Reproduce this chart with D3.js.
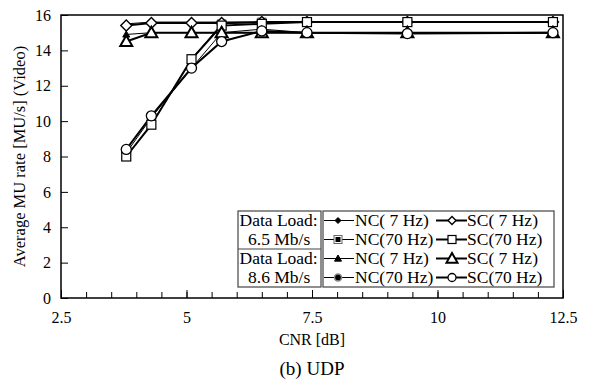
<!DOCTYPE html>
<html>
<head>
<meta charset="utf-8">
<script src="https://cdn.jsdelivr.net/npm/d3@7"></script>
<style>
  html, body { margin: 0; padding: 0; background: #fff; }
  svg text { font-family: "Liberation Serif", "Times New Roman", serif; fill: #000; }
</style>
</head>
<body>
<svg id="chart" width="589" height="385"></svg>
<script>
// CNR sample points [dB]
const cnr = [3.8, 4.3, 5.1, 5.7, 6.5, 7.4, 9.4, 12.3];

// Average MU rate [MU/s], data load 6.5 Mb/s
const nc7_65  = [15.5, 15.6, 15.6, 15.6, 15.6, 15.6, 15.6, 15.6];
const nc70_65 = [8.0, 9.8, 13.5, 15.5, 15.6, 15.6, 15.6, 15.6];
const sc7_65  = [15.4, 15.55, 15.55, 15.55, 15.6, 15.6, 15.6, 15.6];
const sc70_65 = [8.0, 9.8, 13.5, 15.4, 15.5, 15.6, 15.6, 15.6];

// Average MU rate [MU/s], data load 8.6 Mb/s
const nc7_86  = [14.9, 15.0, 15.0, 15.0, 15.0, 15.0, 15.0, 15.0];
const nc70_86 = [8.2, 10.2, 13.0, 15.0, 15.2, 15.0, 15.0, 15.0];
const sc7_86  = [14.5, 15.0, 15.0, 15.0, 15.0, 15.0, 15.0, 15.0];
const sc70_86 = [8.4, 10.3, 13.0, 14.5, 15.1, 15.0, 14.95, 15.0];

const xTicks = [2.5, 5, 7.5, 10, 12.5];
const yTicks = [0, 2, 4, 6, 8, 10, 12, 14, 16];
const loads = ["6.5 Mb/s", "8.6 Mb/s"];

const series = [
  { name: "NC( 7 Hz)",  values: nc7_65,  shape: "diamond",  kind: "nc" },
  { name: "NC(70 Hz)",  values: nc70_65, shape: "square",   kind: "nc" },
  { name: "NC( 7 Hz)",  values: nc7_86,  shape: "triangle", kind: "nc" },
  { name: "NC(70 Hz)",  values: nc70_86, shape: "circle",   kind: "nc" },
  { name: "SC( 7 Hz)",  values: sc7_65,  shape: "diamond",  kind: "sc" },
  { name: "SC(70 Hz)",  values: sc70_65, shape: "square",   kind: "sc" },
  { name: "SC( 7 Hz)",  values: sc7_86,  shape: "triangle", kind: "sc" },
  { name: "SC(70 Hz)",  values: sc70_86, shape: "circle",   kind: "sc" }
];

const svg = d3.select("#chart");
const margin = { left: 61, right: 26, top: 15, bottom: 87 };
const W = 589, H = 385;
const x = d3.scaleLinear().domain([2.5, 12.5]).range([margin.left, W - margin.right]);
const y = d3.scaleLinear().domain([0, 16]).range([H - margin.bottom, margin.top]);
const FONT = "Liberation Serif";

// Minor x ticks every 0.5 dB, pointing inward
svg.append("g").attr("transform", `translate(0,${y(0)})`)
  .call(d3.axisBottom(x).tickValues(d3.range(2.5, 12.51, 0.5)).tickSize(-6).tickFormat(""))
  .call(g => g.select(".domain").remove())
  .call(g => g.selectAll("line").attr("stroke", "#000"));
// Major x ticks with labels
svg.append("g").attr("transform", `translate(0,${y(0)})`)
  .call(d3.axisBottom(x).tickValues(xTicks).tickSize(-8).tickPadding(14).tickFormat(d3.format("")))
  .call(g => g.select(".domain").remove())
  .call(g => g.selectAll("line").attr("stroke", "#000"))
  .call(g => g.selectAll("text").attr("font-size", 16).style("font-family", FONT));

svg.append("g").attr("transform", `translate(${x(2.5)},0)`)
  .call(d3.axisLeft(y).tickValues(yTicks).tickSize(-7).tickPadding(10))
  .call(g => g.select(".domain").remove())
  .call(g => g.selectAll("line").attr("stroke", "#000"))
  .call(g => g.selectAll("text").attr("font-size", 16).style("font-family", FONT));

// Plot frame
svg.append("rect")
  .attr("x", x(2.5)).attr("y", y(16))
  .attr("width", x(12.5) - x(2.5)).attr("height", y(0) - y(16))
  .attr("fill", "none").attr("stroke", "#000").attr("stroke-width", 1.5);

// Axis titles and caption
svg.append("text").attr("x", (x(2.5) + x(12.5)) / 2).attr("y", 345)
  .attr("text-anchor", "middle").attr("font-size", 16).text("CNR [dB]");
svg.append("text").attr("transform", `translate(25,${(y(0) + y(16)) / 2}) rotate(-90)`)
  .attr("text-anchor", "middle").attr("font-size", 16.5).text("Average MU rate [MU/s] (Video)");
svg.append("text").attr("x", (x(2.5) + x(12.5)) / 2).attr("y", 375)
  .attr("text-anchor", "middle").attr("font-size", 19).text("(b) UDP");

// Markers: "nc" small filled, "sc" large open, "leg" small open (legend)
function marker(g, shape, kind, cx, cy) {
  const big = kind === "sc";
  const open = kind !== "nc";
  const fill = open ? "#fff" : "#000";
  if (shape === "diamond") {
    const r = big ? 5.5 : (open ? 4 : 3);
    g.append("path").attr("d", `M${cx},${cy - r}L${cx + r},${cy}L${cx},${cy + r}L${cx - r},${cy}Z`)
      .attr("fill", fill).attr("stroke", "#000").attr("stroke-width", open ? 1.4 : 1);
  } else if (shape === "square") {
    const r = big ? 4.5 : 4;
    g.append("rect").attr("x", cx - r).attr("y", cy - r).attr("width", 2 * r).attr("height", 2 * r)
      .attr("fill", "#fff").attr("stroke", open ? "#000" : "#666").attr("stroke-width", open ? 1.2 : 1);
    if (!open) g.append("rect").attr("x", cx - 2.5).attr("y", cy - 2.5).attr("width", 5).attr("height", 5).attr("fill", "#000");
  } else if (shape === "triangle") {
    const r = big ? 6 : (open ? 5.5 : 3.5);
    g.append("path").attr("d", `M${cx},${cy - r}L${cx + r},${cy + r * 0.75}L${cx - r},${cy + r * 0.75}Z`)
      .attr("fill", fill).attr("stroke", "#000").attr("stroke-width", open ? 2 : 1);
  } else {
    const r = big ? 5 : (open ? 4 : 3.5);
    g.append("circle").attr("cx", cx).attr("cy", cy).attr("r", r)
      .attr("fill", fill).attr("stroke", open ? "#000" : "#888").attr("stroke-width", open ? 1.3 : 1.5);
  }
}

const line = d3.line().x((d, i) => x(cnr[i])).y(d => y(d));
const plot = svg.append("g");
series.forEach(s => {
  plot.append("path").attr("d", line(s.values)).attr("fill", "none")
    .attr("stroke", "#000").attr("stroke-width", s.kind === "sc" ? 2 : 1);
});
series.forEach(s => {
  const g = plot.append("g");
  s.values.forEach((v, i) => marker(g, s.shape, s.kind, x(cnr[i]), y(v)));
});

// Legend
const lg = svg.append("g");
const lgTop = 211, rowH = 19, leftX = 238, midX = 321, rightX = 554;
const lgBottom = lgTop + rowH * 4;
lg.append("rect").attr("x", leftX).attr("y", lgTop).attr("width", midX - leftX).attr("height", lgBottom - lgTop)
  .attr("fill", "#fff").attr("stroke", "#444").attr("stroke-width", 1.2);
lg.append("line").attr("x1", leftX).attr("x2", midX).attr("y1", lgTop + rowH * 2).attr("y2", lgTop + rowH * 2)
  .attr("stroke", "#444").attr("stroke-width", 1.2);
lg.append("rect").attr("x", midX + 2).attr("y", lgTop).attr("width", rightX - midX - 2).attr("height", lgBottom - lgTop)
  .attr("fill", "#fff").attr("stroke", "#444").attr("stroke-width", 1.2);
loads.forEach((l, k) => {
  const y0 = lgTop + k * rowH * 2;
  lg.append("text").attr("x", leftX + 1.5).attr("y", y0 + 15).attr("font-size", 17.5).text("Data Load:");
  lg.append("text").attr("x", leftX + 10).attr("y", y0 + 34).attr("font-size", 17.5).text(l);
});
for (let r = 0; r < 4; r++) {
  const cy = lgTop + rowH * (r + 0.5);
  const nc = series[r], sc = series[r + 4];
  lg.append("line").attr("x1", midX + 3).attr("x2", 354).attr("y1", cy).attr("y2", cy).attr("stroke", "#000").attr("stroke-width", 1);
  marker(lg, nc.shape, nc.kind, 338, cy);
  lg.append("text").attr("x", 355).attr("y", cy + 5.5).attr("font-size", 17.5).text(nc.name);
  lg.append("line").attr("x1", 436).attr("x2", 467).attr("y1", cy).attr("y2", cy).attr("stroke", "#000").attr("stroke-width", 2);
  marker(lg, sc.shape, "leg", 452, cy);
  lg.append("text").attr("x", 467).attr("y", cy + 5.5).attr("font-size", 17.5).text(sc.name);
}
</script>
</body>
</html>
